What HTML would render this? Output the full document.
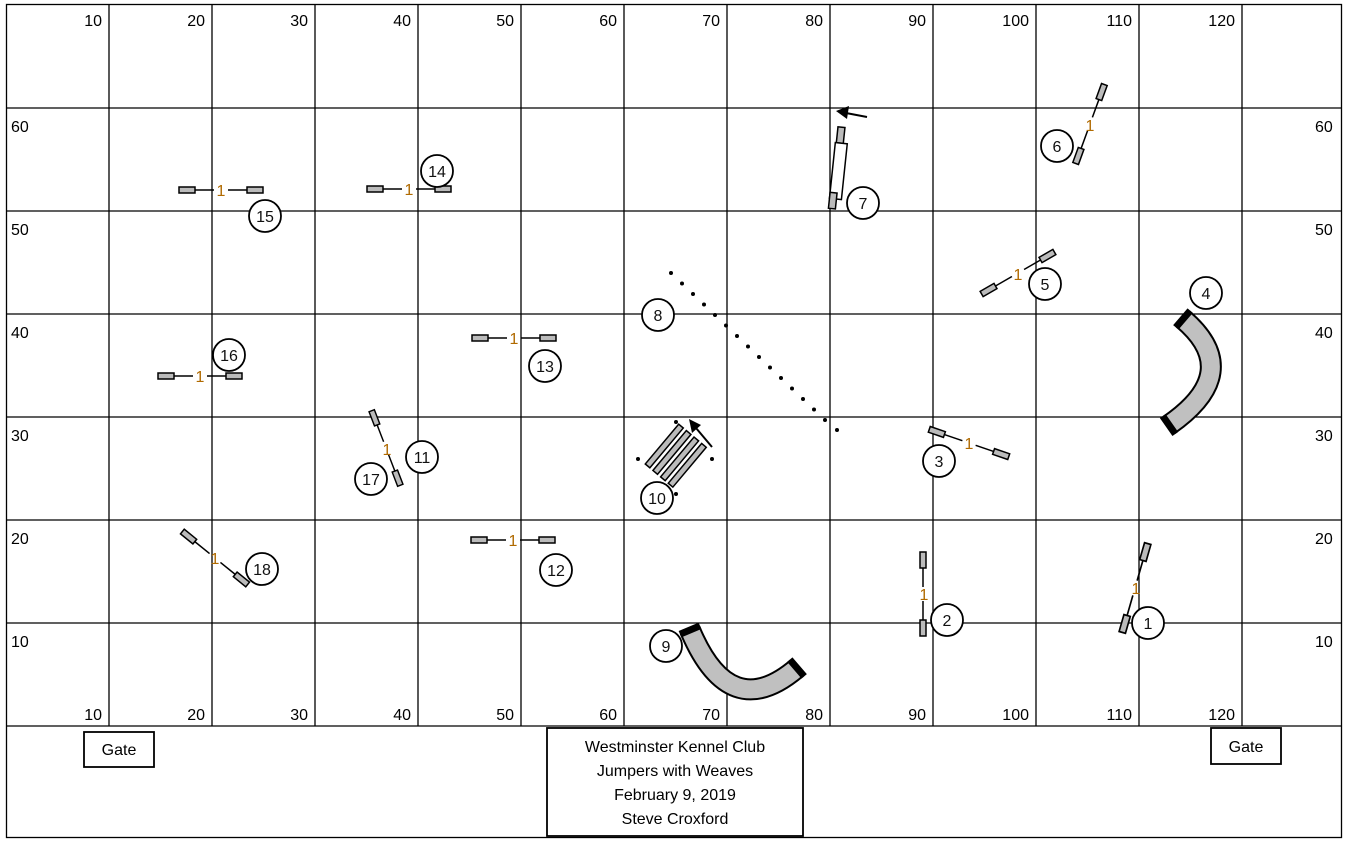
<!DOCTYPE html>
<html><head><meta charset="utf-8"><style>
html,body{margin:0;padding:0;background:#fff}
svg{display:block}
text{font-family:"Liberation Sans",Arial,sans-serif}
</style></head><body>
<svg width="1352" height="843" viewBox="0 0 1352 843" xmlns="http://www.w3.org/2000/svg">
<rect x="0" y="0" width="1352" height="843" fill="#fff"/>
<g stroke="#000" stroke-width="1.3" fill="none">
<rect x="6.5" y="4.5" width="1335" height="833"/>
<line x1="109" y1="4" x2="109" y2="726"/><line x1="212" y1="4" x2="212" y2="726"/>
<line x1="315" y1="4" x2="315" y2="726"/><line x1="418" y1="4" x2="418" y2="726"/>
<line x1="521" y1="4" x2="521" y2="726"/><line x1="624" y1="4" x2="624" y2="726"/>
<line x1="727" y1="4" x2="727" y2="726"/><line x1="830" y1="4" x2="830" y2="726"/>
<line x1="933" y1="4" x2="933" y2="726"/><line x1="1036" y1="4" x2="1036" y2="726"/>
<line x1="1139" y1="4" x2="1139" y2="726"/><line x1="1242" y1="4" x2="1242" y2="726"/>
<line x1="6" y1="108" x2="1342" y2="108"/><line x1="6" y1="211" x2="1342" y2="211"/>
<line x1="6" y1="314" x2="1342" y2="314"/><line x1="6" y1="417" x2="1342" y2="417"/>
<line x1="6" y1="520" x2="1342" y2="520"/><line x1="6" y1="623" x2="1342" y2="623"/>
<line x1="6" y1="726" x2="1342" y2="726"/>
</g>
<g font-size="16" fill="#000" text-anchor="end">
<text x="102" y="26">10</text><text x="205" y="26">20</text><text x="308" y="26">30</text><text x="411" y="26">40</text><text x="514" y="26">50</text><text x="617" y="26">60</text><text x="720" y="26">70</text><text x="823" y="26">80</text><text x="926" y="26">90</text><text x="1029" y="26">100</text><text x="1132" y="26">110</text><text x="1235" y="26">120</text>
<text x="102" y="720">10</text><text x="205" y="720">20</text><text x="308" y="720">30</text><text x="411" y="720">40</text><text x="514" y="720">50</text><text x="617" y="720">60</text><text x="720" y="720">70</text><text x="823" y="720">80</text><text x="926" y="720">90</text><text x="1029" y="720">100</text><text x="1132" y="720">110</text><text x="1235" y="720">120</text>
</g>
<g font-size="16" fill="#000">
<text x="11" y="132">60</text><text x="11" y="235">50</text><text x="11" y="338">40</text><text x="11" y="441">30</text><text x="11" y="544">20</text><text x="11" y="647">10</text>
<text x="1315" y="132">60</text><text x="1315" y="235">50</text><text x="1315" y="338">40</text><text x="1315" y="441">30</text><text x="1315" y="544">20</text><text x="1315" y="647">10</text>
</g>
<defs>
<g id="jmp">
<line x1="-26" y1="0" x2="-7" y2="0" stroke="#000" stroke-width="1.5"/>
<line x1="7" y1="0" x2="26" y2="0" stroke="#000" stroke-width="1.5"/>
<rect x="-42" y="-3" width="16" height="6" fill="#bbb" stroke="#000" stroke-width="1.5"/>
<rect x="26" y="-3" width="16" height="6" fill="#bbb" stroke="#000" stroke-width="1.5"/>
</g>
</defs>
<g>
<use href="#jmp" transform="translate(221,190)"/>
<use href="#jmp" transform="translate(409,189)"/>
<use href="#jmp" transform="translate(200,376)"/>
<use href="#jmp" transform="translate(514,338)"/>
<use href="#jmp" transform="translate(513,540)"/>
<use href="#jmp" transform="translate(215,558) rotate(39)"/>
<use href="#jmp" transform="translate(386,448) rotate(69) scale(0.95)"/>
<use href="#jmp" transform="translate(923,594) rotate(90)"/>
<use href="#jmp" transform="translate(1135,588) rotate(106) scale(1.1)"/>
<use href="#jmp" transform="translate(969,443) rotate(19)"/>
<use href="#jmp" transform="translate(1018,273) rotate(-30)"/>
<use href="#jmp" transform="translate(1090,124) rotate(110)"/>
</g>
<g font-size="16" fill="#b06a00" text-anchor="middle">
<text x="221" y="196">1</text><text x="409" y="195">1</text><text x="200" y="382">1</text><text x="514" y="344">1</text><text x="513" y="546">1</text><text x="215" y="564">1</text><text x="387" y="455">1</text><text x="924" y="600">1</text><text x="1136" y="594">1</text><text x="969" y="449">1</text><text x="1018" y="280">1</text><text x="1090" y="131">1</text>
</g>
<g transform="translate(838,165) rotate(6)" stroke="#000" stroke-width="1.5" fill="#fff">
<rect x="-4" y="-38" width="7" height="16" fill="#bbb"/>
<rect x="-5" y="-22" width="12" height="56"/>
<rect x="-5" y="28" width="7" height="16" fill="#bbb"/>
</g>
<line x1="867" y1="117" x2="846" y2="113" stroke="#000" stroke-width="2"/>
<polygon points="836,111 849,106 847,119" fill="#000"/>
<g fill="#000">
<circle cx="671" cy="273" r="2"/><circle cx="682" cy="283.5" r="2"/><circle cx="693" cy="294" r="2"/><circle cx="704" cy="304.5" r="2"/><circle cx="715" cy="315" r="2"/><circle cx="726" cy="325.5" r="2"/><circle cx="737" cy="336" r="2"/><circle cx="748" cy="346.5" r="2"/><circle cx="759" cy="357" r="2"/><circle cx="770" cy="367.5" r="2"/><circle cx="781" cy="378" r="2"/><circle cx="792" cy="388.5" r="2"/><circle cx="803" cy="399" r="2"/><circle cx="814" cy="409.5" r="2"/><circle cx="825" cy="420" r="2"/><circle cx="837" cy="430" r="2"/>
</g>
<g transform="translate(675,455) rotate(-50)" stroke="#000" stroke-width="1.5" fill="#bbb">
<rect x="-26" y="-17" width="52" height="6"/>
<rect x="-26" y="-7" width="52" height="6"/>
<rect x="-26" y="3" width="52" height="6"/>
<rect x="-26" y="13" width="52" height="6"/>
</g>
<g fill="#000"><circle cx="676" cy="422" r="2"/><circle cx="638" cy="459" r="2"/><circle cx="712" cy="459" r="2"/><circle cx="676" cy="494" r="2"/></g>
<line x1="712" y1="447" x2="696" y2="428" stroke="#000" stroke-width="2"/>
<polygon points="689,419 701,425 692,433" fill="#000"/>
<path d="M1183,319 Q1245,372 1169,425" fill="none" stroke="#000" stroke-width="22"/>
<path d="M1183,319 Q1245,372 1169,425" fill="none" stroke="#c0c0c0" stroke-width="18"/>
<path d="M690,630 Q730,725 797,668" fill="none" stroke="#000" stroke-width="22"/>
<path d="M690,630 Q730,725 797,668" fill="none" stroke="#c0c0c0" stroke-width="18"/>
<g stroke="#000" stroke-width="7">
<line x1="1175.8" y1="327.4" x2="1190.2" y2="310.6"/>
<line x1="1175.3" y1="434" x2="1162.7" y2="416"/>
<line x1="700" y1="625.8" x2="680" y2="634.2"/>
<line x1="804.2" y1="676.4" x2="789.8" y2="659.6"/>
</g>
<g stroke="#000" stroke-width="1.8" fill="#fff">
<circle cx="1148" cy="623" r="16"/><circle cx="947" cy="620" r="16"/><circle cx="939" cy="461" r="16"/><circle cx="1206" cy="293" r="16"/><circle cx="1045" cy="284" r="16"/><circle cx="1057" cy="146" r="16"/><circle cx="863" cy="203" r="16"/><circle cx="658" cy="315" r="16"/><circle cx="666" cy="646" r="16"/><circle cx="657" cy="498" r="16"/><circle cx="422" cy="457" r="16"/><circle cx="556" cy="570" r="16"/><circle cx="545" cy="366" r="16"/><circle cx="437" cy="171" r="16"/><circle cx="265" cy="216" r="16"/><circle cx="229" cy="355" r="16"/><circle cx="371" cy="479" r="16"/><circle cx="262" cy="569" r="16"/>
</g>
<g font-size="16" fill="#111" text-anchor="middle">
<text x="1148" y="629">1</text><text x="947" y="626">2</text><text x="939" y="467">3</text><text x="1206" y="299">4</text><text x="1045" y="290">5</text><text x="1057" y="152">6</text><text x="863" y="209">7</text><text x="658" y="321">8</text><text x="666" y="652">9</text><text x="657" y="504">10</text><text x="422" y="463">11</text><text x="556" y="576">12</text><text x="545" y="372">13</text><text x="437" y="177">14</text><text x="265" y="222">15</text><text x="229" y="361">16</text><text x="371" y="485">17</text><text x="262" y="575">18</text>
</g>
<g stroke="#000" stroke-width="1.8" fill="#fff">
<rect x="84" y="732" width="70" height="35"/>
<rect x="1211" y="728" width="70" height="36"/>
<rect x="547" y="728" width="256" height="108"/>
</g>
<g font-size="16" fill="#000" text-anchor="middle">
<text x="119" y="755">Gate</text><text x="1246" y="752">Gate</text>
<text x="675" y="752">Westminster Kennel Club</text>
<text x="675" y="776">Jumpers with Weaves</text>
<text x="675" y="800">February 9, 2019</text>
<text x="675" y="824">Steve Croxford</text>
</g>
</svg>
</body></html>
